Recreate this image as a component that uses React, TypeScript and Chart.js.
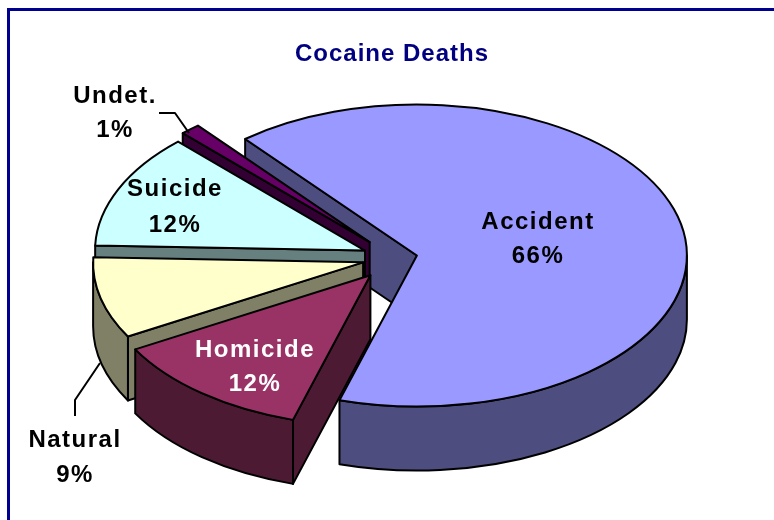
import React, { useEffect, useRef } from "react";
import { Chart, registerables } from "chart.js";

Chart.register(...registerables);

const categories = ["Accident", "Homicide", "Natural", "Suicide", "Undet."];
const values = [65.6, 12.2, 8.7, 12.3, 1.2];
const explode = [17, 30, 25, 25, 29];
const topColors = ["#9999FF", "#993366", "#FFFFCC", "#CCFFFF", "#660066"];
const sideColors = ["#4D4D80", "#4D1A33", "#808066", "#668080", "#330033"];
const labelColors = ["#000000", "#FFFFFF", "#000000", "#000000", "#000000"];
const paintOrder = [0, 4, 3, 2, 1];

const CENTER_X = 395;
const CENTER_Y = 258;
const RADIUS_X = 270;
const RADIUS_Y = 151;
const DEPTH = 64;
const FONT = '"Liberation Sans", Arial, sans-serif';

// name/percent text centre and baselines, per slice
const labelAnchors = [
  { x: 538, y1: 229, y2: 263 },
  { x: 255, y1: 357, y2: 391 },
  { x: 75, y1: 447, y2: 482 },
  { x: 175, y1: 196, y2: 232 },
  { x: 115, y1: 103, y2: 137 },
];
const leaderLines = [
  [[159, 113], [175, 113], [189, 133]],
  [[100, 363], [75, 400], [75, 416]],
];

const pie3d = {
  id: "pie3d",
  beforeDraw(chart: any) {
    chart.ctx.letterSpacing = "1px";
  },
  beforeDatasetDraw() {
    return false;
  },
  afterDatasetsDraw(chart: any) {
    const ctx = chart.ctx;
    const arcs = chart.getDatasetMeta(0).data;
    const R = arcs[0].outerRadius;
    const sx = RADIUS_X / R;
    const sy = RADIUS_Y / R;
    ctx.save();
    ctx.lineWidth = 2;
    ctx.lineJoin = "round";
    ctx.strokeStyle = "#000000";

    const paint = (fill: string) => {
      ctx.fillStyle = fill;
      ctx.fill();
      ctx.stroke();
    };

    for (const i of paintOrder) {
      const arc = arcs[i];
      const a0 = arc.startAngle;
      const a1 = arc.endAngle;
      const mid = (a0 + a1) / 2;
      const off = arc.options.offset;
      const tx = CENTER_X + Math.cos(mid) * off * sx;
      const ty = CENTER_Y + Math.sin(mid) * off * sy;
      const p0 = [tx + Math.cos(a0) * RADIUS_X, ty + Math.sin(a0) * RADIUS_Y];
      const p1 = [tx + Math.cos(a1) * RADIUS_X, ty + Math.sin(a1) * RADIUS_Y];

      // only the cut faces that look toward the viewer
      const faces: number[][] = [];
      if (Math.cos(a0) < 0) faces.push(p0);
      if (Math.cos(a1) > 0) faces.push(p1);
      for (const p of faces) {
        ctx.beginPath();
        ctx.moveTo(tx, ty);
        ctx.lineTo(p[0], p[1]);
        ctx.lineTo(p[0], p[1] + DEPTH);
        ctx.lineTo(tx, ty + DEPTH);
        ctx.closePath();
        paint(sideColors[i]);
      }

      for (const base of [0, Math.PI * 2, -Math.PI * 2]) {
        const s = Math.max(a0, base);
        const e = Math.min(a1, base + Math.PI);
        if (e <= s) continue;
        ctx.beginPath();
        ctx.ellipse(tx, ty, RADIUS_X, RADIUS_Y, 0, s, e);
        ctx.ellipse(tx, ty + DEPTH, RADIUS_X, RADIUS_Y, 0, e, s, true);
        ctx.closePath();
        paint(sideColors[i]);
      }

      ctx.beginPath();
      ctx.moveTo(tx, ty);
      ctx.ellipse(tx, ty, RADIUS_X, RADIUS_Y, 0, a0, a1);
      ctx.closePath();
      paint(topColors[i]);
    }

    for (const line of leaderLines) {
      ctx.beginPath();
      line.forEach(([x, y], k) => (k ? ctx.lineTo(x, y) : ctx.moveTo(x, y)));
      ctx.stroke();
    }

    const total = values.reduce((a, b) => a + b, 0);
    ctx.font = `bold 24px ${FONT}`;
    ctx.letterSpacing = "1.5px";
    ctx.textAlign = "center";
    ctx.textBaseline = "alphabetic";
    categories.forEach((name, i) => {
      const a = labelAnchors[i];
      ctx.fillStyle = labelColors[i];
      ctx.fillText(name, a.x, a.y1);
      ctx.fillText(`${Math.round((values[i] / total) * 100)}%`, a.x, a.y2);
    });
    ctx.restore();
  },
};

export default function App() {
  const ref = useRef<HTMLCanvasElement>(null);
  useEffect(() => {
    const chart = new Chart(ref.current as HTMLCanvasElement, {
      type: "pie",
      data: {
        labels: categories,
        datasets: [
          {
            data: values,
            backgroundColor: topColors,
            offset: explode,
            borderColor: "#000000",
            borderWidth: 2,
          },
        ],
      },
      options: {
        responsive: false,
        animation: false,
        rotation: -39.5,
        layout: { padding: 0 },
        plugins: {
          legend: { display: false },
          tooltip: { enabled: false },
          title: {
            display: true,
            text: "Cocaine Deaths",
            color: "#000080",
            font: { family: FONT, size: 24, weight: "bold" },
            padding: { top: 40, bottom: 8 },
          },
        },
      },
      plugins: [pie3d],
    } as any);
    return () => chart.destroy();
  }, []);
  return (
    <div style={{ position: "fixed", inset: 0, overflow: "hidden", background: "#fff" }}>
      <canvas ref={ref} width={784} height={520} style={{ position: "absolute", left: 0, top: 0 }} />
      <div
        style={{
          position: "absolute",
          left: 7,
          top: 8,
          width: 800,
          height: 600,
          border: "3px solid #000090",
        }}
      />
    </div>
  );
}
